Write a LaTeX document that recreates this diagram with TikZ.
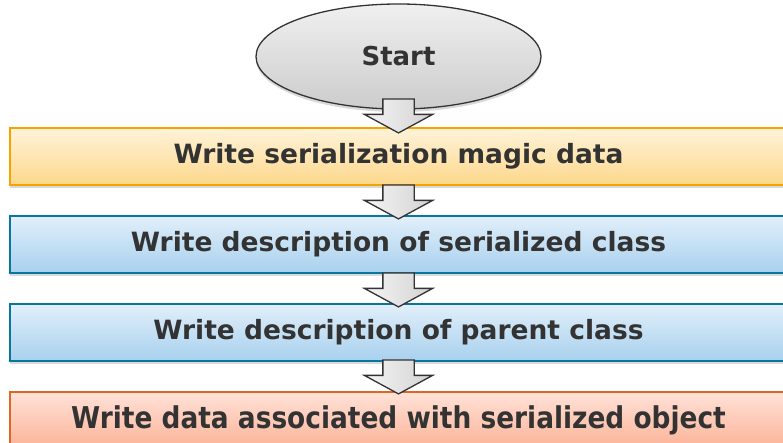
\documentclass[tikz,border=0pt]{standalone}
\usepackage{fontspec}
\setmainfont{DejaVu Sans}
\usepackage{graphicx}
\usetikzlibrary{shapes.geometric, shapes.arrows, positioning, shadows}
\definecolor{ink}{HTML}{333333}
\definecolor{goldline}{HTML}{F5A300}
\definecolor{goldtop}{HTML}{FFF3DA}
\definecolor{goldbot}{HTML}{FDD88C}
\definecolor{blueline}{HTML}{08779C}
\definecolor{bluetop}{HTML}{E2EFFA}
\definecolor{bluebot}{HTML}{A8D1EE}
\definecolor{redline}{HTML}{DD6825}
\definecolor{redtop}{HTML}{FFE2D8}
\definecolor{redbot}{HTML}{FBB296}
\tikzset{
  stepbox/.style={rectangle, minimum width=778pt, minimum height=57pt, inner sep=0pt, line width=2pt, text=ink, font=\fontsize{26.5}{30}\selectfont\bfseries, drop shadow={shadow xshift=0pt, shadow yshift=-3pt, opacity=.3}},
  goldbox/.style={stepbox, draw=goldline, top color=goldtop, bottom color=goldbot},
  bluebox/.style={stepbox, draw=blueline, top color=bluetop, bottom color=bluebot},
  redbox/.style={stepbox, draw=redline, top color=redtop, bottom color=redbot},
  startnode/.style={ellipse, draw=ink, line width=1.3pt, top color=gray!12, bottom color=gray!40, minimum width=285pt, minimum height=105pt, inner sep=0pt, text=ink, font=\fontsize{26}{30}\selectfont\bfseries, drop shadow={shadow xshift=0pt, shadow yshift=-3pt, opacity=.3}},
  downarrow/.style={single arrow, rotate=-90, draw=ink, line width=1.3pt, left color=gray!8, right color=gray!35, inner xsep=0pt, inner ysep=15pt, minimum height=34pt, single arrow head extend=18.5pt, single arrow tip angle=123, anchor=tip},
}
\begin{document}
\begin{tikzpicture}[x=1pt, y=1pt]
  \clip (0,0) rectangle (783,-443);
  \node[startnode] (start) at (398.5,-56.5) {Start};
  \node[goldbox, below=17pt of start] (magic) {Write serialization magic data};
  \node[bluebox, below=29pt of magic] (classdesc) {Write description of serialized class};
  \node[bluebox, below=29pt of classdesc] (parentdesc) {Write description of parent class};
  \node[redbox, below=29pt of parentdesc] (objdata) {\scalebox{0.88}[1]{\fontsize{30}{33}\selectfont Write data associated with serialized object}};
  % block arrows between the steps
  \node[downarrow] (a1) at ([yshift=-7pt]magic.north) {};
  \node[downarrow] (a2) at ([yshift=-5pt]classdesc.north) {};
  \node[downarrow] (a3) at ([yshift=-5pt]parentdesc.north) {};
  \node[downarrow] (a4) at ([yshift=-4pt]objdata.north) {};
\end{tikzpicture}
\end{document}
